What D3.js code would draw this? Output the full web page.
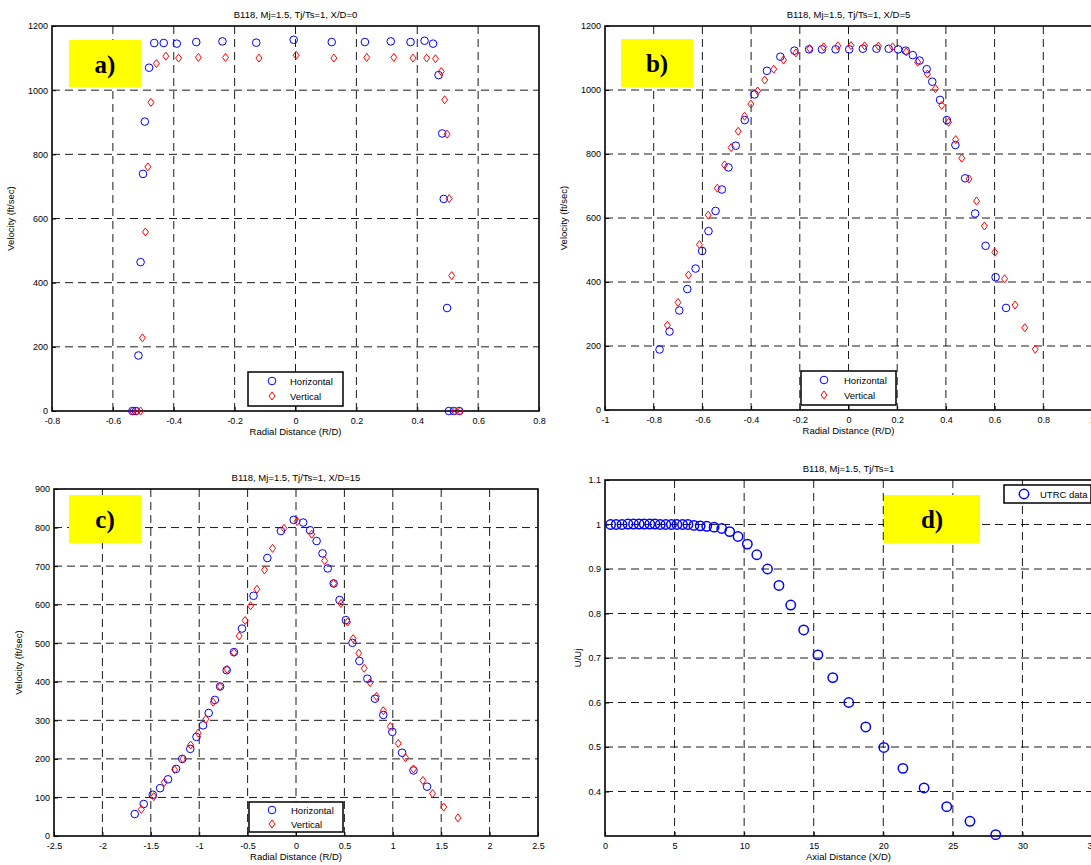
<!DOCTYPE html>
<html>
<head>
<meta charset="utf-8">
<script src="https://cdn.jsdelivr.net/npm/d3@7"></script>
<style>
  body { margin: 0; background: #fff; }
  svg { display: block; }
</style>
</head>
<body>
<div id="container"></div>
<script>
// panel a) X/D=0
const aHorX = [-0.536,-0.524,-0.516,-0.509,-0.501,-0.495,-0.481,-0.464,-0.433,-0.390,-0.326,-0.240,-0.129,-0.006,0.119,0.228,0.313,0.378,0.424,0.452,0.470,0.482,0.487,0.498,0.504,0.520,0.538];
const aHorY = [0,0,173,464,739,902,1070,1147,1147,1145,1150,1152,1148,1157,1150,1150,1152,1150,1154,1145,1047,865,661,321,0,0,0];
const aVerX = [-0.536,-0.521,-0.509,-0.503,-0.493,-0.485,-0.475,-0.457,-0.426,-0.384,-0.319,-0.230,-0.120,0.002,0.126,0.234,0.323,0.386,0.431,0.460,0.479,0.490,0.498,0.505,0.513,0.524,0.541];
const aVerY = [0,0,0,228,558,761,962,1083,1106,1100,1102,1102,1100,1109,1100,1102,1102,1100,1100,1098,1058,970,863,662,422,0,0];

// panel b) X/D=5
const bHorX = [-0.776,-0.735,-0.695,-0.662,-0.628,-0.601,-0.575,-0.546,-0.520,-0.493,-0.463,-0.426,-0.386,-0.335,-0.280,-0.222,-0.162,-0.109,-0.053,0.003,0.059,0.115,0.165,0.204,0.235,0.264,0.292,0.321,0.344,0.376,0.404,0.439,0.479,0.520,0.563,0.604,0.647];
const bHorY = [189,245,311,378,442,497,559,622,689,758,826,906,986,1060,1104,1123,1127,1127,1127,1127,1129,1129,1129,1127,1123,1109,1092,1065,1026,969,906,828,724,614,513,415,319];
const bVerX = [-0.744,-0.700,-0.657,-0.612,-0.576,-0.539,-0.509,-0.482,-0.453,-0.427,-0.401,-0.373,-0.344,-0.307,-0.267,-0.216,-0.159,-0.102,-0.044,0.010,0.066,0.123,0.181,0.237,0.284,0.324,0.357,0.383,0.411,0.440,0.465,0.495,0.526,0.558,0.601,0.641,0.684,0.724,0.767];
const bVerY = [265,336,422,517,609,693,766,820,871,918,956,997,1031,1065,1094,1116,1129,1135,1138,1139,1138,1137,1135,1119,1087,1050,1004,952,899,845,787,722,653,575,493,410,328,257,190];

// panel c) X/D=15
const cHorX = [-1.666,-1.573,-1.480,-1.404,-1.322,-1.239,-1.175,-1.092,-1.028,-0.960,-0.902,-0.838,-0.784,-0.716,-0.641,-0.558,-0.439,-0.296,-0.156,-0.024,0.074,0.145,0.213,0.274,0.328,0.389,0.450,0.515,0.583,0.655,0.737,0.816,0.902,0.995,1.096,1.214,1.354];
const cHorY = [57,83,107,124,147,174,200,226,257,287,319,353,388,430,477,538,623,721,791,820,813,793,765,733,694,655,612,560,501,454,408,356,314,270,216,170,128];
const cVerX = [-1.598,-1.469,-1.361,-1.254,-1.168,-1.089,-1.010,-0.931,-0.856,-0.784,-0.712,-0.641,-0.587,-0.526,-0.469,-0.404,-0.325,-0.242,-0.124,0.013,0.163,0.296,0.389,0.465,0.533,0.590,0.648,0.705,0.766,0.831,0.902,0.974,1.056,1.132,1.214,1.311,1.411,1.526,1.673];
const cVerY = [69,102,139,172,200,236,267,303,347,388,432,476,519,559,597,640,690,746,798,816,783,714,655,603,555,512,474,435,398,362,325,284,240,203,174,144,110,75,47];

// panel d) centreline decay
const dX = [0.40,0.80,1.22,1.65,2.05,2.45,2.82,3.22,3.59,3.97,4.37,4.77,5.17,5.57,5.96,6.39,6.84,7.31,7.84,8.39,8.96,9.56,10.23,10.91,11.68,12.50,13.35,14.28,15.30,16.37,17.52,18.74,20.04,21.41,22.93,24.56,26.23,28.08];
const dY = [1.0,1.0,1.0,1.001,1.001,1.001,1.001,1.001,1.001,1.0,1.0,1.0,1.0,1.0,1.0,0.998,0.997,0.996,0.994,0.991,0.984,0.973,0.956,0.932,0.900,0.863,0.819,0.763,0.707,0.656,0.600,0.545,0.499,0.452,0.408,0.366,0.333,0.303];

// tick labels
const xTicksA = [-0.8,-0.6,-0.4,-0.2,0,0.2,0.4,0.6,0.8];
const xTicksB = [-1,-0.8,-0.6,-0.4,-0.2,0,0.2,0.4,0.6,0.8,1];
const xTicksC = [-2.5,-2,-1.5,-1,-0.5,0,0.5,1,1.5,2,2.5];
const xTicksD = [0,5,10,15,20,25,30,35];
const yTicksVel = [0,200,400,600,800,1000,1200];
const yTicksC = [0,100,200,300,400,500,600,700,800,900];
const yTicksD = [0.4,0.5,0.6,0.7,0.8,0.9,1,1.1];

const seriesNames = ["Horizontal", "Vertical"];

const FONT = "'Liberation Sans', Arial, sans-serif";
const W = 1091, H = 865;

const svg = d3.select('#container')
    .append('svg')
    .attr('width', W)
    .attr('height', H);

function drawPanel(p) {
    const x = d3.scaleLinear().domain(p.xDomain).range([p.x0, p.x1]);
    const y = d3.scaleLinear().domain(p.yDomain).range([p.y1, p.y0]);
    const g = svg.append('g');

    // dashed grid
    g.selectAll('.vgrid')
        .data(p.xTicks.filter(t => t > p.xDomain[0] && t < p.xDomain[1]))
        .enter().append('line')
        .attr('x1', d => x(d)).attr('x2', d => x(d))
        .attr('y1', p.y0).attr('y2', p.y1)
        .attr('stroke', '#000').attr('stroke-width', 0.9)
        .attr('stroke-dasharray', '8,5');
    g.selectAll('.hgrid')
        .data(p.yTicks.filter(t => t > p.yDomain[0] && t < p.yDomain[1]))
        .enter().append('line')
        .attr('x1', p.x0).attr('x2', p.x1)
        .attr('y1', d => y(d)).attr('y2', d => y(d))
        .attr('stroke', '#000').attr('stroke-width', 0.9)
        .attr('stroke-dasharray', '8,5');

    // axes via d3 (inner ticks)
    const fmt = d => String(+d.toFixed(2));
    g.append('g')
        .attr('transform', `translate(0,${p.y1})`)
        .call(d3.axisBottom(x).tickValues(p.xTicks).tickSize(-4).tickPadding(7).tickFormat(fmt))
        .call(a => a.select('.domain').remove())
        .call(a => a.selectAll('text').attr('font-family', FONT).attr('font-size', 9).attr('fill', '#000'));
    g.append('g')
        .attr('transform', `translate(${p.x0},0)`)
        .call(d3.axisLeft(y).tickValues(p.yTicks).tickSize(-4).tickPadding(4).tickFormat(fmt))
        .call(a => a.select('.domain').remove())
        .call(a => a.selectAll('text').attr('font-family', FONT).attr('font-size', 9).attr('fill', '#000'));

    // frame
    g.append('rect')
        .attr('x', p.x0).attr('y', p.y0)
        .attr('width', p.x1 - p.x0).attr('height', p.y1 - p.y0)
        .attr('fill', 'none').attr('stroke', '#000').attr('stroke-width', 1.6);

    // titles
    g.append('text')
        .attr('x', (p.x0 + p.x1) / 2).attr('y', p.y0 - 8)
        .attr('text-anchor', 'middle')
        .attr('font-family', FONT).attr('font-size', 9.5)
        .text(p.title);
    g.append('text')
        .attr('x', (p.x0 + p.x1) / 2).attr('y', p.y1 + 24)
        .attr('text-anchor', 'middle')
        .attr('font-family', FONT).attr('font-size', 9.5)
        .text(p.xLabel);
    g.append('text')
        .attr('transform', `translate(${p.yLabelX},${(p.y0 + p.y1) / 2}) rotate(-90)`)
        .attr('text-anchor', 'middle')
        .attr('font-family', FONT).attr('font-size', 9.5)
        .text(p.yLabel);

    // yellow tag
    g.append('rect')
        .attr('x', p.tag.x).attr('y', p.tag.y)
        .attr('width', p.tag.w).attr('height', p.tag.h)
        .attr('fill', '#ffff00');
    g.append('text')
        .attr('x', p.tag.x + p.tag.w / 2).attr('y', p.tag.y + p.tag.h / 2 + 9)
        .attr('text-anchor', 'middle')
        .attr('font-family', "'Liberation Serif', 'Times New Roman', serif")
        .attr('font-weight', 'bold').attr('font-size', 25)
        .text(p.tag.label);

    // markers
    if (p.hor) {
        g.append('g').selectAll('circle')
            .data(d3.zip(p.hor[0], p.hor[1]))
            .enter().append('circle')
            .attr('cx', d => x(d[0])).attr('cy', d => y(d[1]))
            .attr('r', p.r || 3.8)
            .attr('fill', 'none').attr('stroke', '#0000ff').attr('stroke-width', p.sw || 1);
    }
    if (p.ver) {
        g.append('g').selectAll('path')
            .data(d3.zip(p.ver[0], p.ver[1]))
            .enter().append('path')
            .attr('d', d => {
                const cx = x(d[0]), cy = y(d[1]);
                return `M${cx},${cy - 4}L${cx + 3},${cy}L${cx},${cy + 4}L${cx - 3},${cy}Z`;
            })
            .attr('fill', 'none').attr('stroke', '#ff0000').attr('stroke-width', 1);
    }

    // legend
    const L = p.legend;
    g.append('rect')
        .attr('x', L.x).attr('y', L.y).attr('width', L.w).attr('height', L.h)
        .attr('fill', '#fff').attr('stroke', '#000').attr('stroke-width', 1.5);
    L.items.forEach((name, i) => {
        const ly = L.y + L.first + i * L.step;
        if (i === 0) {
            g.append('circle').attr('cx', L.x + L.mx).attr('cy', ly)
                .attr('r', p.r || 3.8).attr('fill', 'none')
                .attr('stroke', '#0000ff').attr('stroke-width', p.sw || 1);
        } else {
            const cx = L.x + L.mx;
            g.append('path')
                .attr('d', `M${cx},${ly - 4}L${cx + 3},${ly}L${cx},${ly + 4}L${cx - 3},${ly}Z`)
                .attr('fill', 'none').attr('stroke', '#ff0000').attr('stroke-width', 1);
        }
        g.append('text')
            .attr('x', L.x + L.tx).attr('y', ly + 3.5)
            .attr('font-family', FONT).attr('font-size', 9.5)
            .text(name);
    });
}

drawPanel({
    x0: 52, x1: 539, y0: 26, y1: 411,
    xDomain: [-0.8, 0.8], yDomain: [0, 1200],
    xTicks: xTicksA, yTicks: yTicksVel,
    title: 'B118, Mj=1.5, Tj/Ts=1, X/D=0',
    xLabel: 'Radial Distance (R/D)', yLabel: 'Velocity (ft/sec)', yLabelX: 14,
    tag: {x: 69, y: 40, w: 72, h: 47, label: 'a)'},
    hor: [aHorX, aHorY], ver: [aVerX, aVerY],
    legend: {x: 248, y: 372, w: 95, h: 34, first: 9, step: 15, mx: 24, tx: 42, items: seriesNames}
});

drawPanel({
    x0: 605, x1: 1092, y0: 26, y1: 410,
    xDomain: [-1, 1], yDomain: [0, 1200],
    xTicks: xTicksB, yTicks: yTicksVel,
    title: 'B118, Mj=1.5, Tj/Ts=1, X/D=5',
    xLabel: 'Radial Distance (R/D)', yLabel: 'Velocity (ft/sec)', yLabelX: 567,
    tag: {x: 621, y: 39, w: 72, h: 48, label: 'b)'},
    hor: [bHorX, bHorY], ver: [bVerX, bVerY],
    legend: {x: 801, y: 371, w: 95, h: 34, first: 9, step: 15, mx: 23, tx: 43, items: seriesNames}
});

drawPanel({
    x0: 54, x1: 538, y0: 489, y1: 836,
    xDomain: [-2.5, 2.5], yDomain: [0, 900],
    xTicks: xTicksC, yTicks: yTicksC,
    title: 'B118, Mj=1.5, Tj/Ts=1, X/D=15',
    xLabel: 'Radial Distance (R/D)', yLabel: 'Velocity (ft/sec)', yLabelX: 22,
    tag: {x: 69, y: 495, w: 72, h: 48, label: 'c)'},
    hor: [cHorX, cHorY], ver: [cVerX, cVerY],
    legend: {x: 249, y: 802, w: 94, h: 30, first: 8, step: 14, mx: 23, tx: 42, items: seriesNames}
});

drawPanel({
    x0: 605, x1: 1092, y0: 480, y1: 836,
    xDomain: [0, 35], yDomain: [0.3, 1.1],
    xTicks: xTicksD, yTicks: yTicksD,
    title: 'B118, Mj=1.5, Tj/Ts=1',
    xLabel: 'Axial Distance (X/D)', yLabel: 'U/Uj', yLabelX: 581,
    tag: {x: 884, y: 495, w: 96, h: 48, label: 'd)'},
    hor: [dX, dY], r: 4.7, sw: 1.5,
    legend: {x: 1004, y: 485, w: 87, h: 18, first: 9, step: 15, mx: 20, tx: 36, items: ['UTRC data']}
});
</script>
</body>
</html>
